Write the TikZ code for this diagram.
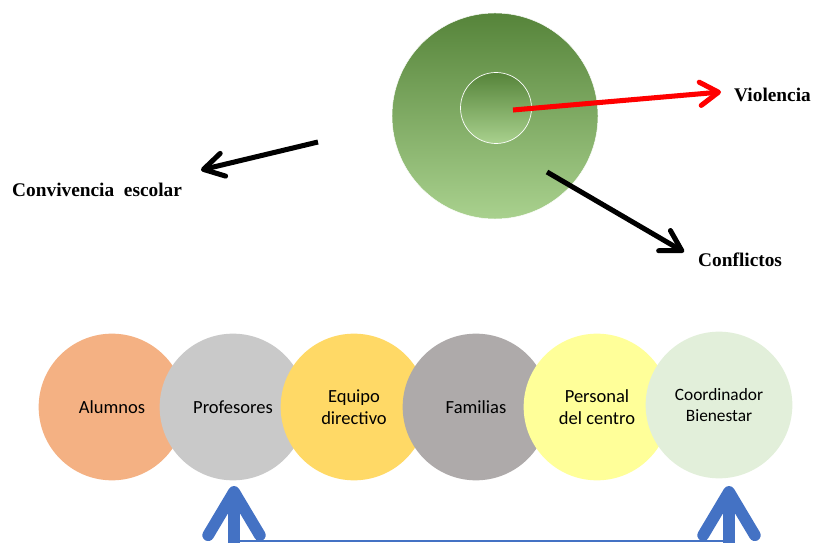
\documentclass[tikz,border=0pt]{standalone}
\usepackage{fontspec}
\setmainfont{Liberation Serif}
\newfontfamily\calibri{Carlito}
\usetikzlibrary{arrows.meta}

\definecolor{alumnosfill}{HTML}{F4B183}
\definecolor{profesfill}{HTML}{C9C9C9}
\definecolor{equipofill}{HTML}{FFD966}
\definecolor{familiasfill}{HTML}{AEAAAA}
\definecolor{personalfill}{HTML}{FFFF99}
\definecolor{coordfill}{HTML}{E2EFDA}
\definecolor{bluearrow}{HTML}{4472C4}
\definecolor{greentop}{HTML}{56843A}
\definecolor{greenbottom}{HTML}{A9D18E}

\begin{document}
\begin{tikzpicture}[
            x=0.03cm, y=-0.03cm,
            member/.style={circle, minimum size=4.4cm, inner sep=0pt, align=center,
                font=\calibri\fontsize{15.8}{18.8}\selectfont},
            title/.style={anchor=west, inner sep=0pt, font=\bfseries\fontsize{16.5}{19}\selectfont},
            red_line/.style={draw=red, line width=4.3pt,
                -{Straight Barb[length=0.55cm, width=0.7cm, round]}},
            black_line/.style={draw=black, line width=4.3pt,
                -{Straight Barb[length=0.6cm, width=0.7cm, round]}},
            blue_line/.style={draw=bluearrow, line width=10pt,
                -{Straight Barb[length=1.3cm, width=1.55cm, round]}}
        ]
        \clip (0,0) rectangle (813,543);

        % Central circles
        \node[circle, minimum size=6.18cm, inner sep=0pt, draw=white, line width=0.4pt,
            top color=greentop, bottom color=greenbottom] (outer) at (495,116) {};
        \node[circle, minimum size=2.13cm, inner sep=0pt, draw=white, line width=0.6pt,
            top color=greentop, bottom color=greenbottom] (inner) at (496,108) {};

        % Labels
        \node[title] (violencia) at (734,95) {Violencia};
        \node[title] (convivencia) at (12,190) {Convivencia\ \ escolar};
        \node[title] (conflictos) at (698,260) {Conflictos};

        \coordinate (red_start) at (513,110);
        \coordinate (red_end) at (721,92);
        \coordinate (left_start) at (318,142);
        \coordinate (left_end) at (201,170);
        \coordinate (right_start) at (547,172);
        \coordinate (right_end) at (684,252);

        \draw[red_line] (red_start) -- (red_end);
        \draw[black_line] (left_start) -- (left_end);
        \draw[black_line] (right_start) -- (right_end);

        % Row of members
        \node[member, fill=alumnosfill] (alumnos) at (112,407) {Alumnos};
        \node[member, fill=profesfill] (profesores) at (233,407) {Profesores};
        \node[member, fill=equipofill] (equipo) at (354,407) {Equipo\\directivo};
        \node[member, fill=familiasfill] (familias) at (476,407) {Familias};
        \node[member, fill=personalfill] (personal) at (597,407) {Personal\\del centro};
        \node[member, fill=coordfill, font=\calibri\fontsize{14.8}{17.5}\selectfont]
            (coordinador) at (719,405) {Coordinador\\Bienestar};

        % Bottom arrows
        \coordinate (prof_base) at (234,560);
        \coordinate (prof_tip) at (234,486);
        \coordinate (coord_base) at (729,560);
        \coordinate (coord_tip) at (729,486);
        \coordinate (line_left) at (234,541);
        \coordinate (line_right) at (729,541);

        \draw[blue_line] (prof_base) -- (prof_tip);
        \draw[blue_line] (coord_base) -- (coord_tip);
        \draw[draw=bluearrow, line width=2pt] (line_left) -- (line_right);

    \end{tikzpicture}
\end{document}
